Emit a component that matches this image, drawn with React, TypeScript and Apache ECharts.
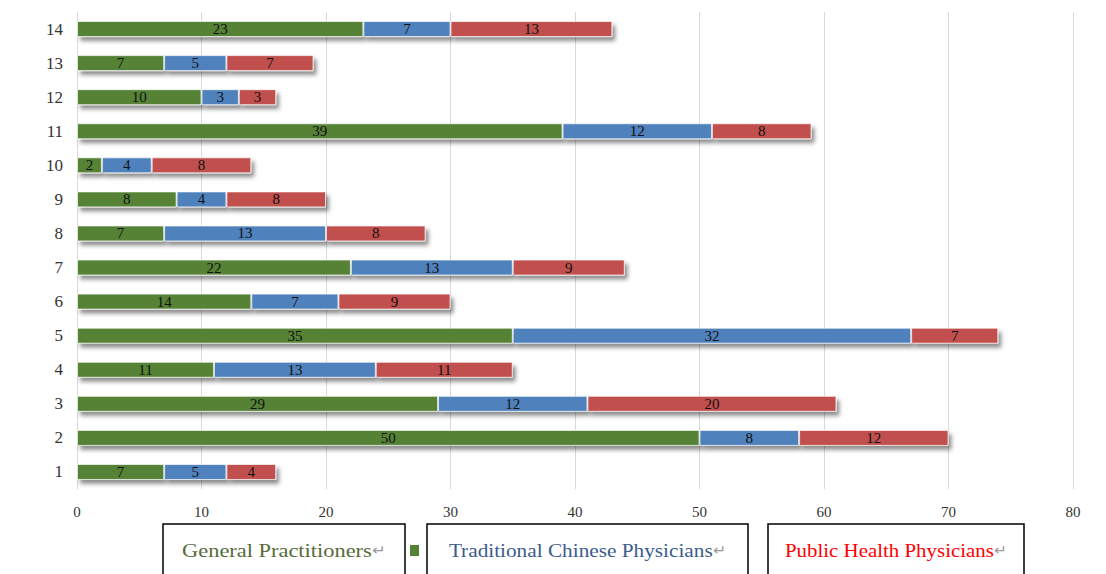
import React, { useEffect, useRef } from "react";
import * as echarts from "echarts";

const categories = ["1", "2", "3", "4", "5", "6", "7", "8", "9", "10", "11", "12", "13", "14"];
const generalPractitioners = [7, 50, 29, 11, 35, 14, 22, 7, 8, 2, 39, 10, 7, 23];
const tcmPhysicians = [5, 8, 12, 13, 32, 7, 13, 13, 4, 4, 12, 3, 5, 7];
const publicHealthPhysicians = [4, 12, 20, 11, 7, 9, 9, 8, 8, 8, 8, 3, 7, 13];
const seriesNames = ["General Practitioners", "Traditional Chinese Physicians", "Public Health Physicians"];
const seriesColors = ["#548235", "#4f81bd", "#c0504d"];

const serif = "'Liberation Serif', 'Times New Roman', serif";

function makeSeries(name: string, data: number[], color: string) {
  return {
    name,
    type: "bar",
    stack: "total",
    barWidth: 16,
    data,
    itemStyle: {
      color,
      borderColor: "rgba(255,255,255,0.7)",
      borderWidth: 1,
      shadowColor: "rgba(0,0,0,0.45)",
      shadowBlur: 4,
      shadowOffsetX: 3,
      shadowOffsetY: 4,
    },
    label: {
      show: true,
      position: "inside",
      color: "#111",
      fontFamily: serif,
      fontSize: 15,
    },
  };
}

// Bordered caption box with a stretched serif label and a return-mark glyph
function legendBox(x: number, w: number, text: string, color: string, stretch: number) {
  return [
    {
      type: "rect",
      shape: { x, y: 524, width: w, height: 70 },
      style: { fill: "#fff", stroke: "#000", lineWidth: 1.5 },
    },
    {
      type: "text",
      x: x + w / 2,
      y: 550,
      scaleX: stretch,
      style: {
        text: `{t|${text}}{r|↵}`,
        align: "center",
        verticalAlign: "middle",
        rich: {
          t: { fontFamily: serif, fontSize: 19, fill: color },
          r: { fontFamily: serif, fontSize: 14, fill: "#999" },
        },
      },
    },
  ];
}

export default function App() {
  const ref = useRef<HTMLDivElement>(null);

  useEffect(() => {
    if (!ref.current) return;
    const chart = echarts.init(ref.current, null, { renderer: "svg" });
    chart.setOption({
      animation: false,
      backgroundColor: "#fff",
      grid: { left: 77, right: 33, top: 12, bottom: 85 },
      xAxis: {
        type: "value",
        min: 0,
        max: 80,
        interval: 10,
        axisLine: { show: false },
        axisTick: { show: false },
        splitLine: { lineStyle: { color: "#d9d9d9", width: 1 } },
        axisLabel: { color: "#333", fontFamily: serif, fontSize: 15, margin: 15 },
      },
      yAxis: {
        type: "category",
        data: categories,
        axisLine: { show: false },
        axisTick: { show: false },
        axisLabel: { color: "#333", fontFamily: serif, fontSize: 17, margin: 14 },
      },
      series: [
        makeSeries(seriesNames[0], generalPractitioners, seriesColors[0]),
        makeSeries(seriesNames[1], tcmPhysicians, seriesColors[1]),
        makeSeries(seriesNames[2], publicHealthPhysicians, seriesColors[2]),
      ],
      graphic: [
        ...legendBox(163, 242, seriesNames[0], "#566b3b", 1.18),
        {
          type: "rect",
          shape: { x: 410, y: 545, width: 9, height: 11 },
          style: { fill: "#548235" },
        },
        ...legendBox(427, 321, seriesNames[1], "#3b5c8c", 1.12),
        ...legendBox(768, 256, seriesNames[2], "#ff0000", 1.1),
      ],
    });
    return () => chart.dispose();
  }, []);

  return (
    <div
      ref={ref}
      style={{ position: "fixed", left: 0, top: 0, width: 1106, height: 574, background: "#fff" }}
    />
  );
}
